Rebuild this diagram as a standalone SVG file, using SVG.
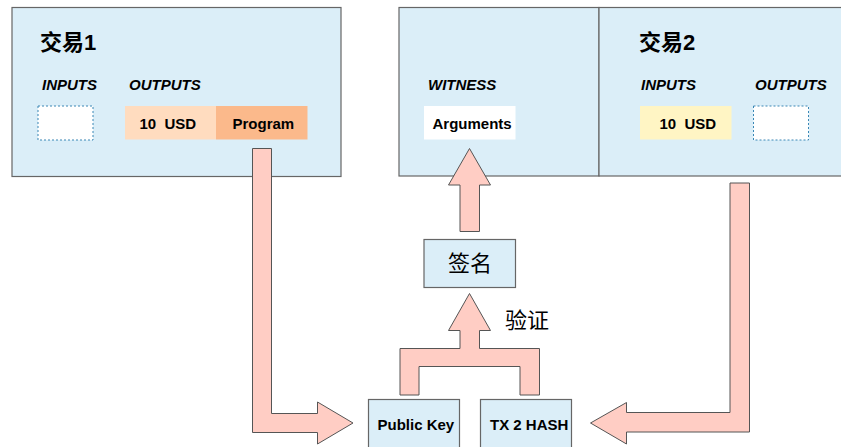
<svg xmlns="http://www.w3.org/2000/svg" width="841" height="447" viewBox="0 0 841 447">
<style>
.box{fill:#dbeef8;stroke:#666;stroke-width:1.2}
.dash{fill:#fff;stroke:#3a87b5;stroke-width:1;stroke-dasharray:2 2}
.arrow{fill:#ffcdc4;stroke:#555;stroke-width:1}
.t{font-family:"Liberation Sans","Noto Sans CJK SC",Arial,sans-serif;fill:#000}
.title{font-size:22px;font-weight:bold}
.lab{font-size:15px;font-weight:bold;font-style:italic}
.b{font-size:15px;font-weight:bold}
.cjk{font-family:"Noto Sans CJK SC","Liberation Sans",sans-serif;font-size:22px;fill:#000}
</style>
<rect width="841" height="447" fill="#fff"/>
<g id="tx1">
<rect class="box" x="12" y="7.5" width="329" height="169"/>
<text class="t title" x="40" y="50">交易1</text>
<text class="t lab" x="42" y="90">INPUTS</text>
<text class="t lab" x="129" y="90">OUTPUTS</text>
<rect class="dash" x="38" y="106" width="55" height="34"/>
<rect x="125" y="106" width="91" height="33.5" fill="#ffdcbf"/>
<text class="t b" x="139.5" y="129" xml:space="preserve">10  USD</text>
<rect x="216" y="106" width="91.5" height="33.5" fill="#fbb98b"/>
<text class="t b" x="232.5" y="129">Program</text>
</g>
<g id="witness">
<rect class="box" x="399" y="7.5" width="200" height="168.5"/>
<text class="t lab" x="428" y="90">WITNESS</text>
<rect x="424" y="106" width="91.5" height="33.5" fill="#fff"/>
<text class="t b" x="432.5" y="129">Arguments</text>
</g>
<g id="tx2">
<rect class="box" x="599" y="7.5" width="260" height="168.5"/>
<text class="t title" x="639" y="50">交易2</text>
<text class="t lab" x="641" y="90">INPUTS</text>
<text class="t lab" x="755" y="90">OUTPUTS</text>
<rect x="640" y="106" width="91.5" height="33.5" fill="#fff5c4"/>
<text class="t b" x="659.5" y="129" xml:space="preserve">10  USD</text>
<rect class="dash" x="753.5" y="106" width="55" height="34"/>
</g>
<g id="signature">
<rect class="box" x="424" y="239.5" width="91.5" height="48"/>
<text class="cjk" x="448" y="271">签名</text>
</g>
<g id="pubkey">
<rect class="box" x="368.5" y="399.5" width="91" height="60"/>
<text class="t b" x="377.5" y="430">Public Key</text>
</g>
<g id="txhash">
<rect class="box" x="480.5" y="399.5" width="91" height="60"/>
<text class="t b" x="490" y="430">TX 2 HASH</text>
</g>
<g id="connectors">
<polygon class="arrow" points="252.5,148.5 271.5,148.5 271.5,413.5 317.5,413.5 317.5,402 353,423 317.5,444 317.5,432.5 252.5,432.5"/>
<polygon class="arrow" points="749.5,183 730,183 730,412.5 626.5,412.5 626.5,402.5 590.5,423 626.5,444 626.5,432 749.5,432"/>
<polygon class="arrow" points="460,231.5 460,185 448.5,185 469.5,148.5 490.5,185 479.5,185 479.5,231.5"/>
<polygon class="arrow" points="400,395 400,348.5 460,348.5 460,330.5 448.5,330.5 469.5,293.5 490.5,330.5 479.5,330.5 479.5,348.5 539.5,348.5 539.5,395 520,395 520,366.5 419,366.5 419,395"/>
<text class="cjk" x="505" y="328">验证</text>
</g>
</svg>
